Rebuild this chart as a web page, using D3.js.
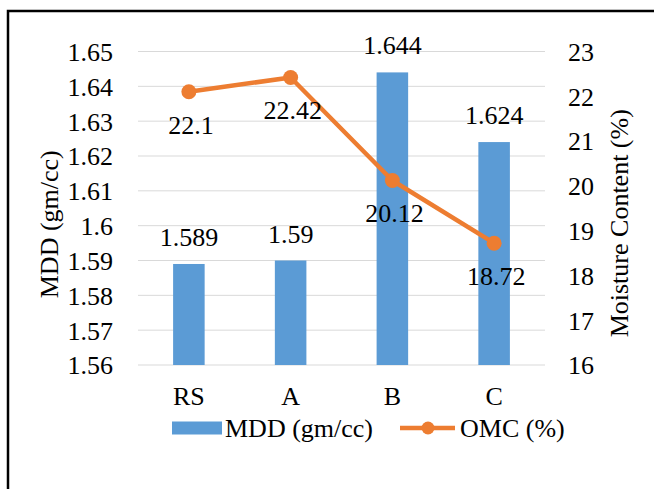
<!DOCTYPE html>
<html>
<head>
<meta charset="utf-8">
<script src="https://cdn.jsdelivr.net/npm/d3@7/dist/d3.min.js"></script>
<style>
  html, body { margin: 0; padding: 0; background: #fff; }
  svg { display: block; }
  svg text { font-family: "Liberation Serif", "Times New Roman", serif; fill: #000; }
</style>
</head>
<body>
<svg id="chart" width="654" height="489"></svg>
<script>
// Samples and measured properties
const categories = ["RS", "A", "B", "C"];
const mddValues = [1.589, 1.59, 1.644, 1.624];   // maximum dry density, gm/cc
const omcValues = [22.1, 22.42, 20.12, 18.72];   // optimum moisture content, %
const mddTicks = [1.56, 1.57, 1.58, 1.59, 1.6, 1.61, 1.62, 1.63, 1.64, 1.65];
const omcTicks = [16, 17, 18, 19, 20, 21, 22, 23];
const seriesNames = ["MDD (gm/cc)", "OMC (%)"];

const blue = "#5b9bd5";
const orange = "#ed7d31";
const fontSize = 26;

const svg = d3.select("#chart");

// outer frame
svg.append("rect")
  .attr("x", 8).attr("y", 11)
  .attr("width", 700).attr("height", 520)
  .attr("fill", "none").attr("stroke", "#000").attr("stroke-width", 2.5);

const plot = { left: 138, right: 545, top: 51.5, bottom: 365 };

const x = d3.scaleBand().domain(categories).range([plot.left, plot.right]).paddingInner(0.69).paddingOuter(0.345);
const yL = d3.scaleLinear().domain([1.56, 1.65]).range([plot.bottom, plot.top]);
const yR = d3.scaleLinear().domain([16, 23]).range([plot.bottom, plot.top]);

// gridlines
svg.append("g").selectAll("line").data(mddTicks).join("line")
  .attr("x1", plot.left).attr("x2", plot.right)
  .attr("y1", d => yL(d)).attr("y2", d => yL(d))
  .attr("stroke", "#d9d9d9").attr("stroke-width", 1);

// left axis
const leftAxis = svg.append("g")
  .attr("transform", `translate(${plot.left - 25},0)`)
  .call(d3.axisLeft(yL).tickValues(mddTicks).tickFormat(d => String(+d.toFixed(2))).tickSize(0).tickPadding(0));
leftAxis.select(".domain").remove();
leftAxis.selectAll("text").attr("font-size", fontSize).attr("dy", "0.34em");

// right axis
const rightAxis = svg.append("g")
  .attr("transform", `translate(${plot.right + 23},0)`)
  .call(d3.axisRight(yR).tickValues(omcTicks).tickFormat(d3.format("d")).tickSize(0).tickPadding(0));
rightAxis.select(".domain").remove();
rightAxis.selectAll("text").attr("font-size", fontSize).attr("dy", "0.34em");

// category axis
const bottomAxis = svg.append("g")
  .attr("transform", `translate(0,${plot.bottom + 22})`)
  .call(d3.axisBottom(x).tickSize(0).tickPadding(0));
bottomAxis.select(".domain").remove();
bottomAxis.selectAll("text").attr("font-size", fontSize).attr("dy", "0.71em");

// axis titles
svg.append("text")
  .attr("transform", `translate(58,${(plot.top + plot.bottom) / 2 + 16}) rotate(-90)`)
  .attr("text-anchor", "middle").attr("font-size", fontSize).text("MDD (gm/cc)");
svg.append("text")
  .attr("transform", `translate(628,${(plot.top + plot.bottom) / 2 + 15}) rotate(-90)`)
  .attr("text-anchor", "middle").attr("font-size", fontSize).text("Moisture Content (%)");

// bars
svg.append("g").selectAll("rect").data(mddValues).join("rect")
  .attr("x", (d, i) => x(categories[i]))
  .attr("width", x.bandwidth())
  .attr("y", d => yL(d))
  .attr("height", d => plot.bottom - yL(d))
  .attr("fill", blue);

// bar value labels
svg.append("g").selectAll("text").data(mddValues).join("text")
  .attr("x", (d, i) => x(categories[i]) + x.bandwidth() / 2)
  .attr("y", d => yL(d) - 18)
  .attr("text-anchor", "middle").attr("font-size", fontSize)
  .text(d => String(d));

// OMC line
const cx = (d, i) => x(categories[i]) + x.bandwidth() / 2;
const line = d3.line().x((d, i) => cx(d, i)).y(d => yR(d));
svg.append("path").datum(omcValues)
  .attr("d", line).attr("fill", "none")
  .attr("stroke", orange).attr("stroke-width", 4.5).attr("stroke-linejoin", "round");
svg.append("g").selectAll("circle").data(omcValues).join("circle")
  .attr("cx", cx).attr("cy", d => yR(d)).attr("r", 7.5).attr("fill", orange);

// line value labels
svg.append("g").selectAll("text").data(omcValues).join("text")
  .attr("x", (d, i) => cx(d, i) + 2)
  .attr("y", d => yR(d) + 42)
  .attr("text-anchor", "middle").attr("font-size", fontSize)
  .text(d => String(d));

// legend
const lg = svg.append("g").attr("transform", "translate(0,428)");
lg.append("rect").attr("x", 172).attr("y", -6.5).attr("width", 50).attr("height", 13).attr("fill", blue);
lg.append("text").attr("x", 225).attr("y", 9).attr("font-size", fontSize).text(seriesNames[0]);
lg.append("line").attr("x1", 400).attr("x2", 455).attr("y1", 0).attr("y2", 0)
  .attr("stroke", orange).attr("stroke-width", 4.5);
lg.append("circle").attr("cx", 428).attr("cy", 0).attr("r", 6.5).attr("fill", orange);
lg.append("text").attr("x", 460).attr("y", 9).attr("font-size", fontSize).text(seriesNames[1]);
</script>
</body>
</html>
